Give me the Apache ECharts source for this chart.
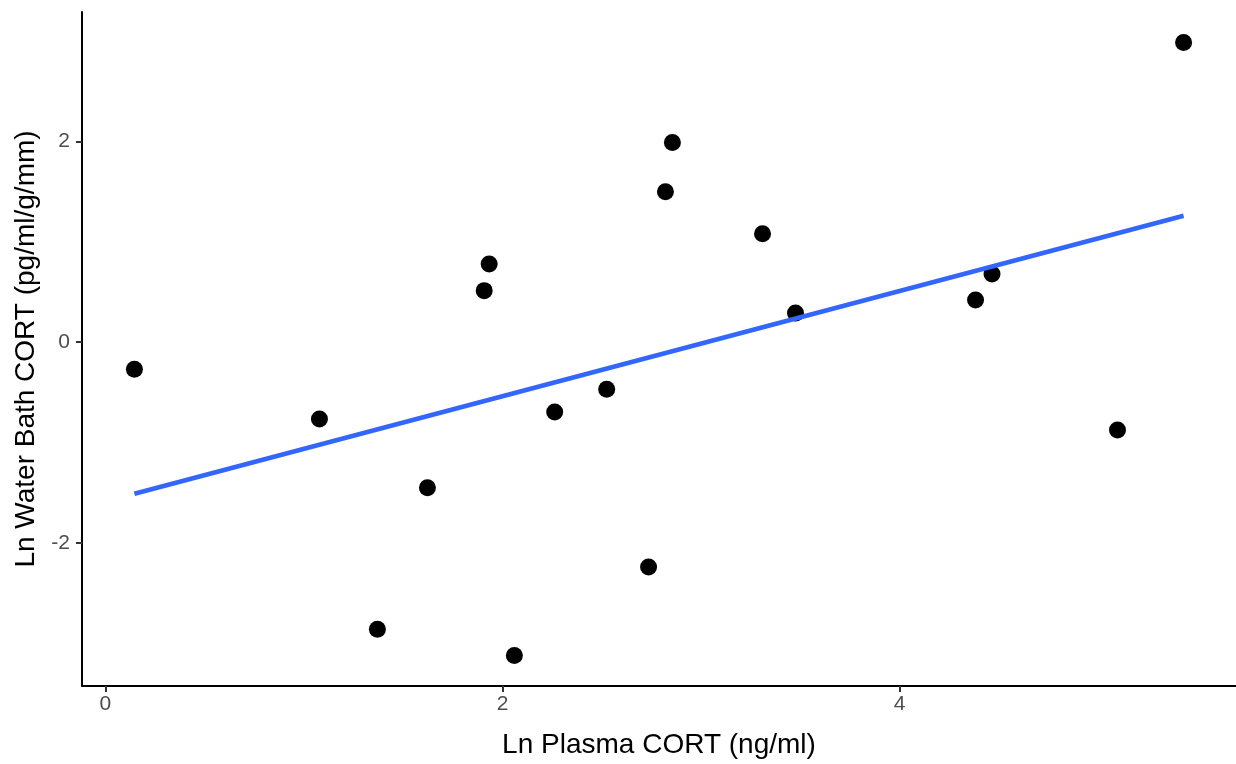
<!DOCTYPE html>
<html>
<head>
<meta charset="utf-8">
<script src="https://cdn.jsdelivr.net/npm/echarts@6/dist/echarts.min.js"></script>
<style>
html,body{margin:0;padding:0;background:#fff;}
#chart{width:1236px;height:764px;}
</style>
</head>
<body>
<div id="chart"></div>
<script>
// Ln Plasma CORT (ng/ml)
const plasmaX = [0.146, 1.078, 1.370, 1.622, 1.908, 1.933, 2.060, 2.263, 2.525, 2.736, 2.821, 2.856, 3.310, 3.476, 4.383, 4.466, 5.098, 5.431];
// Ln Water Bath CORT (pg/ml/g/mm)
const waterY  = [-0.27, -0.765, -2.86, -1.45, 0.514, 0.78, -3.12, -0.695, -0.469, -2.24, 1.50, 1.99, 1.08, 0.29, 0.42, 0.68, -0.875, 2.985];
// fitted line endpoints
const fitX = [0.146, 5.431];
const fitY = [-1.51, 1.26];
const xTicks = [0, 2, 4];
const yTicks = [-2, 0, 2];
const xTitle = 'Ln Plasma CORT (ng/ml)';
const yTitle = 'Ln Water Bath CORT (pg/ml/g/mm)';

const points = plasmaX.map((x, i) => [x, waterY[i]]);
const fit = fitX.map((x, i) => [x, fitY[i]]);
const font = 'Liberation Sans';
const labelOnly = list => v => (list.some(t => Math.abs(t - v) < 1e-9) ? String(v) : '');

const chart = echarts.init(document.getElementById('chart'), null, {renderer: 'canvas'});
chart.setOption({
  animation: false,
  backgroundColor: '#ffffff',
  textStyle: {fontFamily: font},
  grid: {left: 82, right: 0, top: 12, bottom: 78, containLabel: false},
  xAxis: {
    type: 'value',
    min: -0.118, max: 5.695,
    splitNumber: 3,
    splitLine: {show: false},
    axisLine: {show: true, onZero: false, lineStyle: {color: '#000', width: 2}},
    axisTick: {show: true, length: 6, lineStyle: {color: '#333', width: 2}, customValues: xTicks},
    axisLabel: {show: true, color: '#4D4D4D', fontSize: 21, fontFamily: font, margin: 8,
      showMinLabel: false, showMaxLabel: false, formatter: labelOnly(xTicks)},
    name: xTitle,
    nameLocation: 'middle',
    nameGap: 45,
    nameTextStyle: {color: '#000', fontSize: 28, fontFamily: font}
  },
  yAxis: {
    type: 'value',
    min: -3.425, max: 3.29,
    splitNumber: 3,
    splitLine: {show: false},
    axisLine: {show: true, onZero: false, lineStyle: {color: '#000', width: 2}},
    axisTick: {show: true, length: 6, lineStyle: {color: '#333', width: 2}, customValues: yTicks},
    axisLabel: {show: true, color: '#4D4D4D', fontSize: 21, fontFamily: font, margin: 12,
      showMinLabel: false, showMaxLabel: false, formatter: labelOnly(yTicks)},
    name: yTitle,
    nameLocation: 'middle',
    nameGap: 38,
    nameRotate: 90,
    nameTextStyle: {color: '#000', fontSize: 28, fontFamily: font}
  },
  series: [
    {
      type: 'scatter',
      data: points,
      symbol: 'circle',
      symbolSize: 17,
      itemStyle: {color: '#000', opacity: 1},
      z: 2
    },
    {
      type: 'line',
      data: fit,
      showSymbol: false,
      lineStyle: {color: '#3366FF', width: 4.5},
      z: 3
    }
  ]
});
</script>
</body>
</html>
